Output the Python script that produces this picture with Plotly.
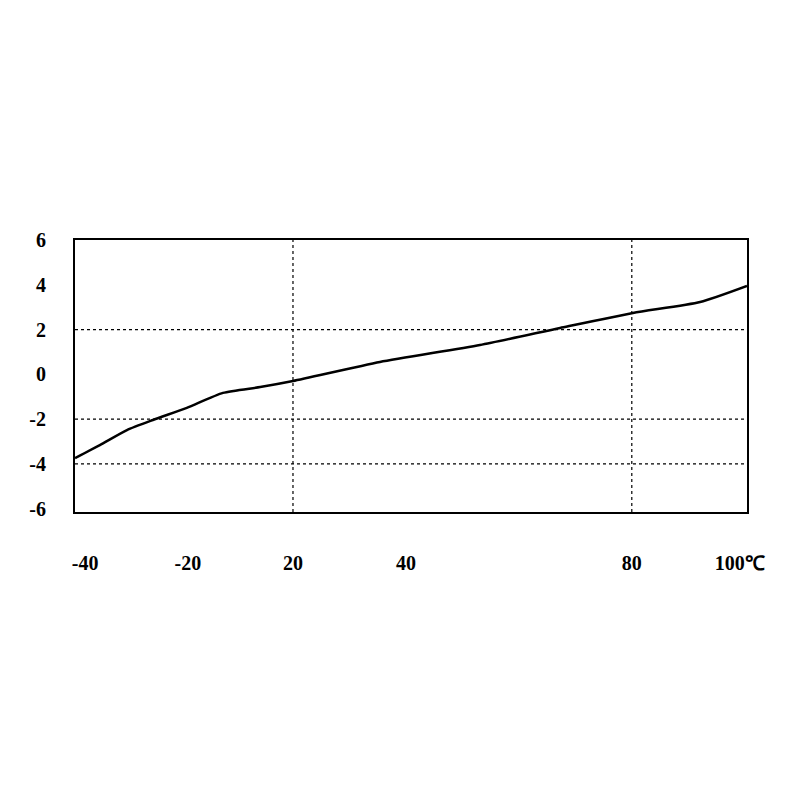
import plotly.graph_objects as go

# Curve (temperature in degC, value)
temps = [-18.6, -14.2, -9.4, -4.8, 1.2, 7.6, 14.2, 20.0, 35.4, 53.1, 67.3, 80.2, 92.1, 100.4]
values = [-3.74, -3.16, -2.49, -2.04, -1.50, -0.83, -0.57, -0.30, 0.55, 1.31, 2.07, 2.74, 3.23, 3.95]

# Axis labels as printed, and where they sit on the temperature scale
x_tick_labels = ["-40", "-20", "20", "40", "80", "100\u2103"]
x_tick_positions = [-16.8, 1.4, 20, 40, 80, 99.1]
y_tick_values = [6, 4, 2, 0, -2, -4, -6]

# Dotted grid lines
x_grid = [20, 80]
y_grid = [2, -2, -4]

fig = go.Figure()
fig.add_trace(go.Scatter(x=temps, y=values, mode="lines",
                         line=dict(color="black", width=2.5, shape="spline", smoothing=0.6),
                         showlegend=False, hoverinfo="skip"))

shapes = []
for gx in x_grid:
    shapes.append(dict(type="line", xref="x", yref="paper", x0=gx, x1=gx, y0=0, y1=1,
                       line=dict(color="black", width=1.2, dash="dot"), layer="below"))
for gy in y_grid:
    shapes.append(dict(type="line", xref="paper", yref="y", x0=0, x1=1, y0=gy, y1=gy,
                       line=dict(color="black", width=1.2, dash="dot"), layer="below"))

tick_font = dict(family="Liberation Serif, Times New Roman, serif", size=20, color="black", weight="bold")

fig.update_layout(
    width=800, height=800,
    margin=dict(l=67, r=61, t=232, b=296, autoexpand=False),
    paper_bgcolor="white", plot_bgcolor="white",
    shapes=shapes,
    xaxis=dict(range=[-18.6, 100.4], tickmode="array", tickvals=x_tick_positions,
               ticktext=x_tick_labels, showgrid=False, zeroline=False, ticks="",
               showline=True, linecolor="black", linewidth=2, mirror=True, automargin=False,
               tickfont=tick_font, ticklabelstandoff=32),
    yaxis=dict(range=[-6.15, 6.0], tickmode="array", tickvals=y_tick_values,
               ticktext=[str(v) for v in y_tick_values], showgrid=False, zeroline=False, ticks="",
               showline=True, linecolor="black", linewidth=2, mirror=True, automargin=False,
               tickfont=tick_font, ticklabelstandoff=23),
)

fig.write_html("out.html")
